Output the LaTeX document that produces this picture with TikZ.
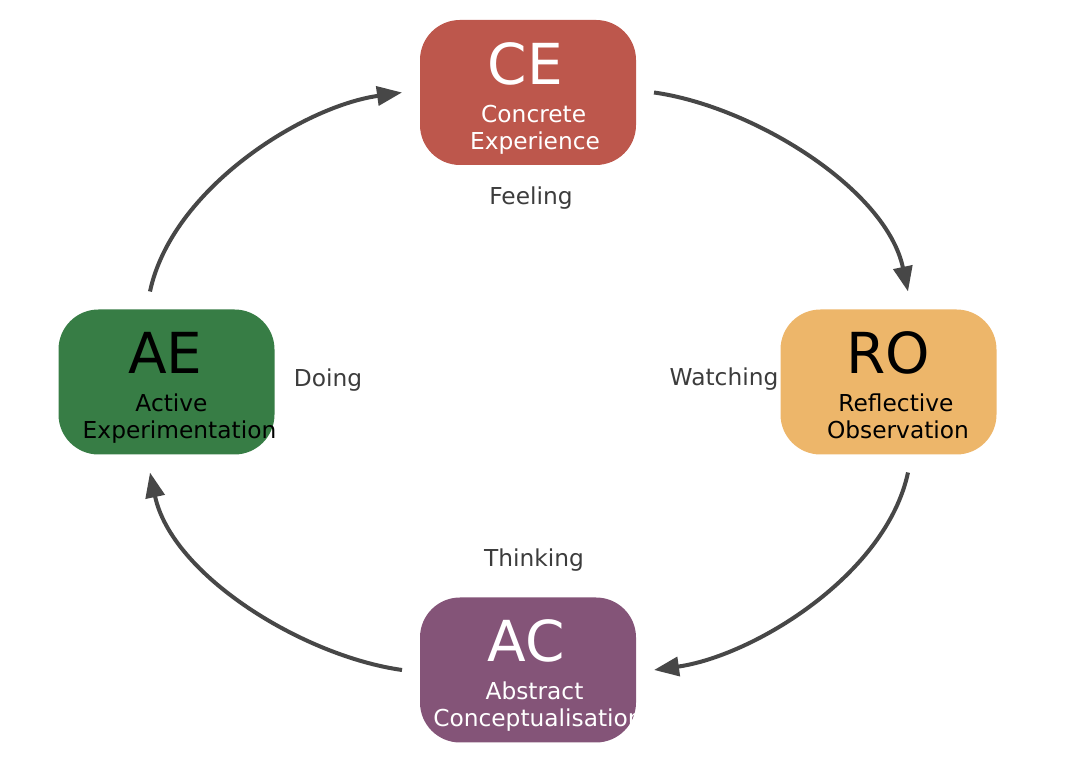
\documentclass[tikz,border=0pt]{standalone}
\usepackage{fontspec}
\setmainfont{DejaVu Sans}
\usepackage{tikz}
\usetikzlibrary{positioning,arrows.meta}

\definecolor{ceRed}{HTML}{BD574C}
\definecolor{roOrange}{HTML}{EDB66A}
\definecolor{aeGreen}{HTML}{377D45}
\definecolor{acPurple}{HTML}{845478}
\definecolor{arrowGray}{HTML}{474747}
\definecolor{labelGray}{HTML}{3C3C3C}

\begin{document}
\begin{tikzpicture}[x=1pt,y=1pt,
  stage/.style={rectangle, rounded corners=40pt, minimum width=216pt, minimum height=145pt, inner sep=0pt, outer sep=18pt},
  abbr/.style={anchor=base, inner sep=0pt, font=\fontsize{56.5}{68}\selectfont},
  subline/.style={anchor=base, inner sep=0pt, font=\fontsize{23.3}{28}\selectfont},
  modeLabel/.style={anchor=base, inner sep=0pt, text=labelGray, font=\fontsize{23.3}{28}\selectfont},
  loopArrow/.style={line width=4pt, draw=arrowGray, -{Triangle[length=25pt,width=19pt]}}]
\useasboundingbox (0,0) rectangle (1080,778);

		% the four stages
		\node[stage, fill=ceRed] (CE) at (528,685.5) {};
		\node[stage, fill=roOrange] (RO) at (888.5,396) {};
		\node[stage, fill=aeGreen] (AE) at (166.5,396) {};
		\node[stage, fill=acPurple] (AC) at (528,108) {};

		\node[abbr, text=white] (CEabbr) at ([xshift=-2.5pt,yshift=8pt]CE.center) {CE};
		\node[subline, text=white] (CEone) at ([xshift=5.7pt,yshift=-30pt]CE.center) {Concrete};
		\node[subline, text=white] (CEtwo) at ([xshift=7pt,yshift=-57pt]CE.center) {Experience};

		\node[abbr, text=black] (ROabbr) at ([yshift=8pt]RO.center) {RO};
		\node[subline, text=black] (ROone) at ([xshift=7.5pt,yshift=-30pt]RO.center) {Reflective};
		\node[subline, text=black] (ROtwo) at ([xshift=9.5pt,yshift=-57pt]RO.center) {Observation};

		\node[abbr, text=black] (AEabbr) at ([xshift=-1pt,yshift=8pt]AE.center) {AE};
		\node[subline, text=black] (AEone) at ([xshift=5pt,yshift=-30pt]AE.center) {Active};
		\node[subline, text=black] (AEtwo) at ([xshift=13pt,yshift=-57pt]AE.center) {Experimentation};

		\node[abbr, text=white] (ACabbr) at ([xshift=-1.5pt,yshift=8pt]AC.center) {AC};
		\node[subline, text=white] (ACone) at ([xshift=6.5pt,yshift=-30pt]AC.center) {Abstract};
		\node[subline, text=white] (ACtwo) at ([xshift=10pt,yshift=-57pt]AC.center) {Conceptualisation};

		% the cycle
		\draw[loopArrow] (CE.east) to[out=-8,in=102,out distance=100pt,in distance=105pt] ([xshift=19.5pt]RO.north);
		\draw[loopArrow] ([xshift=19.5pt]RO.south) to[out=-102,in=8,out distance=105pt,in distance=100pt] (AC.east);
		\draw[loopArrow] (AC.west) to[out=172,in=-78,out distance=100pt,in distance=105pt] ([xshift=-16.5pt]AE.south);
		\draw[loopArrow] ([xshift=-16.5pt]AE.north) to[out=78,in=188,out distance=105pt,in distance=100pt] (CE.west);

		\node[modeLabel] (feeling) at (531,573) {Feeling};
		\node[modeLabel] (watching) at (724,392) {Watching};
		\node[modeLabel] (thinking) at (534,211) {Thinking};
		\node[modeLabel] (doing) at (328,391) {Doing};

\end{tikzpicture}
\end{document}
